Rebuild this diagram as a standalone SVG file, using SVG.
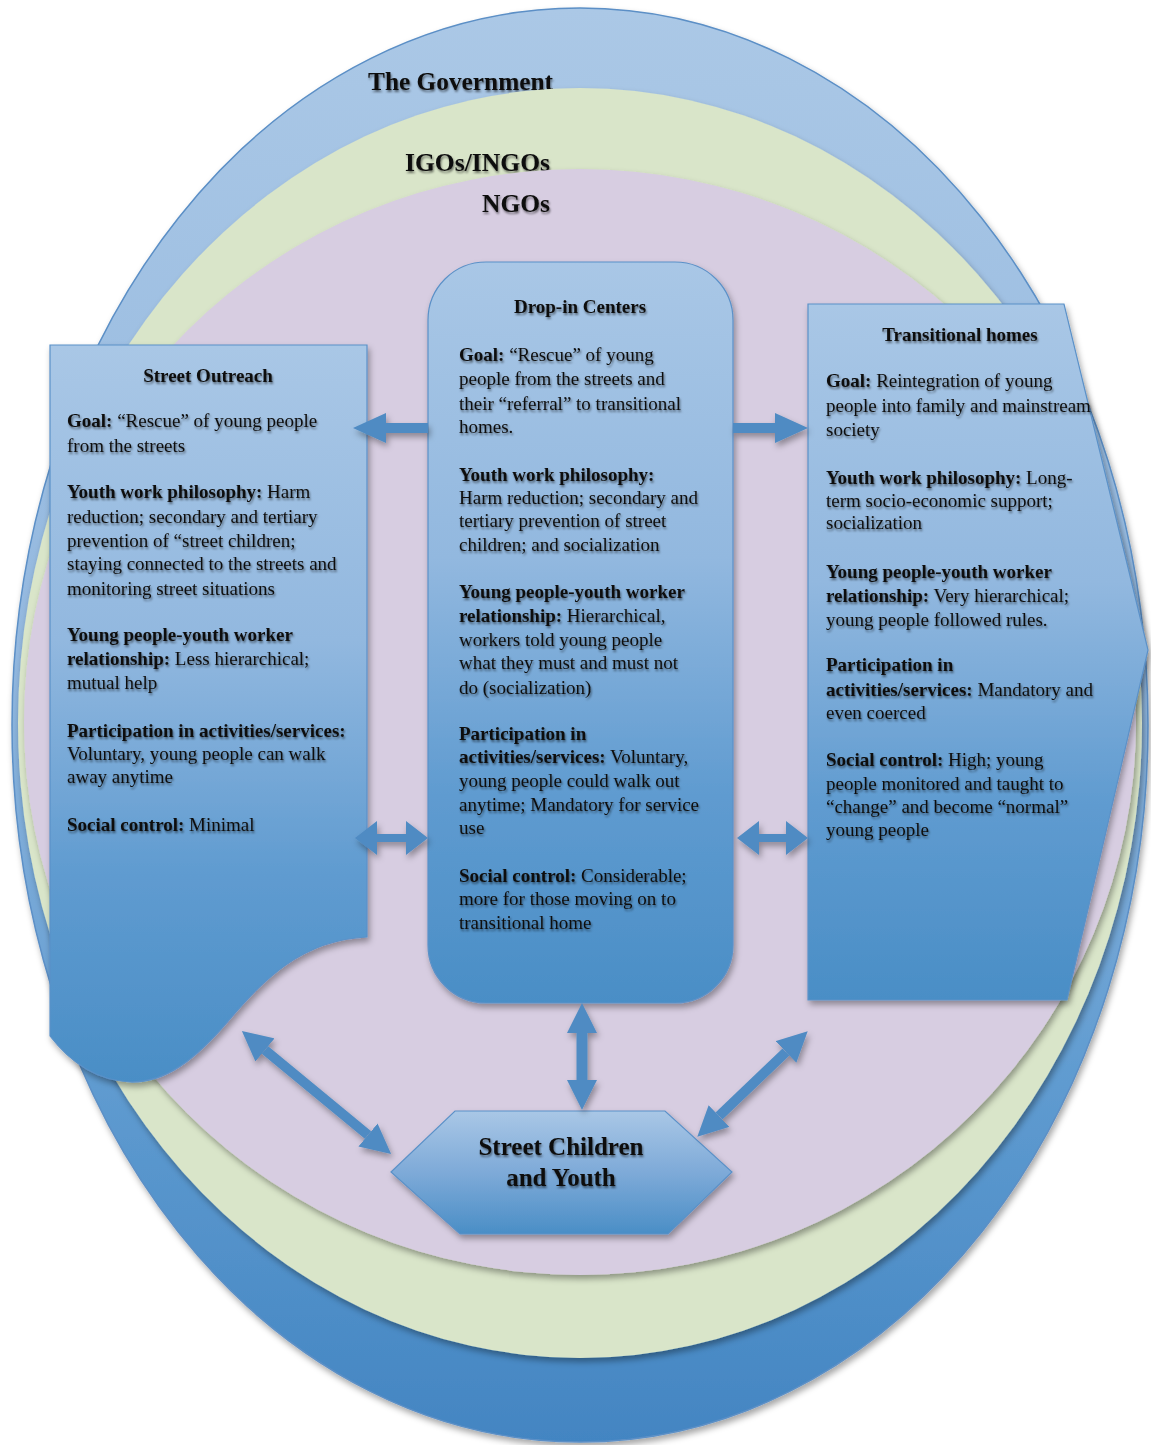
<svg xmlns="http://www.w3.org/2000/svg" width="1151" height="1445" viewBox="0 0 1151 1445">
<style>
text{font-family:"Liberation Serif","Times New Roman",serif;fill:#111;}
.t{font-size:19px;}
.b{font-weight:bold;}
.h{font-size:19px;font-weight:bold;text-anchor:middle;}
.big{font-size:26px;font-weight:bold;}
.conn{stroke:#4f8bc3;fill:none;}
</style>
<defs>
<linearGradient id="gGov" x1="0" y1="0" x2="0" y2="1">
<stop offset="0" stop-color="#abc8e6"/>
<stop offset="0.45" stop-color="#93b8df"/>
<stop offset="0.75" stop-color="#5f9bd0"/>
<stop offset="1" stop-color="#4385c2"/>
</linearGradient>
<linearGradient id="gBox" x1="0" y1="0" x2="0" y2="1">
<stop offset="0" stop-color="#a9c7e6"/>
<stop offset="0.4" stop-color="#92b8df"/>
<stop offset="0.72" stop-color="#5f9bd0"/>
<stop offset="1" stop-color="#4a8ec6"/>
</linearGradient>
<linearGradient id="gHex" x1="0" y1="0" x2="0" y2="1">
<stop offset="0" stop-color="#a9c7e6"/>
<stop offset="0.5" stop-color="#7eaad8"/>
<stop offset="1" stop-color="#4a8ec6"/>
</linearGradient>
<filter id="sh" x="-10%" y="-10%" width="125%" height="125%">
<feDropShadow dx="2" dy="4" stdDeviation="3" flood-color="#000" flood-opacity="0.35"/>
</filter>
<filter id="ts" x="-5%" y="-20%" width="110%" height="160%">
<feDropShadow dx="1" dy="2" stdDeviation="1.3" flood-color="#000" flood-opacity="0.5"/>
</filter>
<marker id="mBig" markerUnits="userSpaceOnUse" markerWidth="33" markerHeight="30" viewBox="0 0 33 30" refX="0" refY="15" orient="auto-start-reverse">
<path d="M0,0 L33,15 L0,30 Z" fill="#4f8bc3"/>
</marker>
<marker id="mSmall" markerUnits="userSpaceOnUse" markerWidth="22" markerHeight="34" viewBox="0 0 22 34" refX="0" refY="17" orient="auto-start-reverse">
<path d="M0,0 L22,17 L0,34 Z" fill="#4f8bc3"/>
</marker>
<marker id="mMid" markerUnits="userSpaceOnUse" markerWidth="30" markerHeight="30" viewBox="0 0 30 30" refX="0" refY="15" orient="auto-start-reverse">
<path d="M0,0 L30,15 L0,30 Z" fill="#4f8bc3"/>
</marker>
</defs>

<g id="government">
<ellipse cx="580" cy="725" rx="568" ry="717" fill="url(#gGov)" stroke="#5b8fc6" stroke-width="1.5" filter="url(#sh)"/>
<text class="big" x="368" y="90" textLength="185" lengthAdjust="spacingAndGlyphs" filter="url(#ts)">The Government</text>
</g>
<g id="igos-ingos">
<ellipse cx="580" cy="723" rx="562" ry="635" fill="#d9e5c9" filter="url(#sh)"/>
<text class="big" x="405" y="171" textLength="145" lengthAdjust="spacingAndGlyphs" filter="url(#ts)">IGOs/INGOs</text>
</g>
<g id="ngos">
<ellipse cx="580" cy="722" rx="556" ry="553" fill="#d7cde1" filter="url(#sh)"/>
<text class="big" x="482" y="212" textLength="68" lengthAdjust="spacingAndGlyphs" filter="url(#ts)">NGOs</text>
</g>

<g id="street-outreach">
<path d="M50,345 H367 V937 C300,940 262,982 229,1020 C195,1060 165,1083 130,1082 C95,1080 70,1062 50,1036 Z" fill="url(#gBox)" stroke="#5b91c8" stroke-width="1.2" filter="url(#sh)"/>
<g filter="url(#ts)">
<text class="h" x="208" y="382">Street Outreach</text>
<text class="t" x="67" y="427"><tspan class="b">Goal:</tspan> “Rescue” of young people</text>
<text class="t" x="67" y="452">from the streets</text>
<text class="t" x="67" y="498"><tspan class="b">Youth work philosophy:</tspan> Harm</text>
<text class="t" x="67" y="523">reduction; secondary and tertiary</text>
<text class="t" x="67" y="547">prevention of “street children;</text>
<text class="t" x="67" y="570">staying connected to the streets and</text>
<text class="t" x="67" y="595">monitoring street situations</text>
<text class="t b" x="67" y="641">Young people-youth worker</text>
<text class="t" x="67" y="665"><tspan class="b">relationship:</tspan> Less hierarchical;</text>
<text class="t" x="67" y="689">mutual help</text>
<text class="t b" x="67" y="737">Participation in activities/services:</text>
<text class="t" x="67" y="760">Voluntary, young people can walk</text>
<text class="t" x="67" y="783">away anytime</text>
<text class="t" x="67" y="831"><tspan class="b">Social control:</tspan> Minimal</text>
</g>
</g>

<g id="drop-in-centers">
<rect x="428" y="262" width="305" height="741" rx="58" ry="58" fill="url(#gBox)" stroke="#5b91c8" stroke-width="1.2" filter="url(#sh)"/>
<g filter="url(#ts)">
<text class="h" x="580" y="313">Drop-in Centers</text>
<text class="t" x="459" y="361"><tspan class="b">Goal:</tspan> “Rescue” of young</text>
<text class="t" x="459" y="385">people from the streets and</text>
<text class="t" x="459" y="410">their “referral” to transitional</text>
<text class="t" x="459" y="433">homes.</text>
<text class="t b" x="459" y="481">Youth work philosophy:</text>
<text class="t" x="459" y="504">Harm reduction; secondary and</text>
<text class="t" x="459" y="527">tertiary prevention of street</text>
<text class="t" x="459" y="551">children; and socialization</text>
<text class="t b" x="459" y="598">Young people-youth worker</text>
<text class="t" x="459" y="622"><tspan class="b">relationship:</tspan> Hierarchical,</text>
<text class="t" x="459" y="646">workers told young people</text>
<text class="t" x="459" y="669">what they must and must not</text>
<text class="t" x="459" y="694">do (socialization)</text>
<text class="t b" x="459" y="740">Participation in</text>
<text class="t" x="459" y="763"><tspan class="b">activities/services:</tspan> Voluntary,</text>
<text class="t" x="459" y="787">young people could walk out</text>
<text class="t" x="459" y="811">anytime; Mandatory for service</text>
<text class="t" x="459" y="834">use</text>
<text class="t" x="459" y="882"><tspan class="b">Social control:</tspan> Considerable;</text>
<text class="t" x="459" y="905">more for those moving on to</text>
<text class="t" x="459" y="929">transitional home</text>
</g>
</g>

<g id="transitional-homes">
<path d="M808,304 H1064 L1148,650 L1067,1000 H808 Z" fill="url(#gBox)" stroke="#5b91c8" stroke-width="1.2" filter="url(#sh)"/>
<g filter="url(#ts)">
<text class="h" x="960" y="341">Transitional homes</text>
<text class="t" x="826" y="387"><tspan class="b">Goal:</tspan> Reintegration of young</text>
<text class="t" x="826" y="412">people into family and mainstream</text>
<text class="t" x="826" y="436">society</text>
<text class="t" x="826" y="484"><tspan class="b">Youth work philosophy:</tspan> Long-</text>
<text class="t" x="826" y="507">term socio-economic support;</text>
<text class="t" x="826" y="529">socialization</text>
<text class="t b" x="826" y="578">Young people-youth worker</text>
<text class="t" x="826" y="602"><tspan class="b">relationship:</tspan> Very hierarchical;</text>
<text class="t" x="826" y="626">young people followed rules.</text>
<text class="t b" x="826" y="671">Participation in</text>
<text class="t" x="826" y="696"><tspan class="b">activities/services:</tspan> Mandatory and</text>
<text class="t" x="826" y="719">even coerced</text>
<text class="t" x="826" y="766"><tspan class="b">Social control:</tspan> High; young</text>
<text class="t" x="826" y="790">people monitored and taught to</text>
<text class="t" x="826" y="813">“change” and become “normal”</text>
<text class="t" x="826" y="836">young people</text>
</g>
</g>

<g id="street-children-and-youth">
<path d="M391,1172 L455,1111 L665,1111 L732,1172 L668,1234 L460,1234 Z" fill="url(#gHex)" stroke="#5b91c8" stroke-width="1.2" filter="url(#sh)"/>
<g filter="url(#ts)">
<text x="561" y="1155" font-size="25" font-weight="bold" text-anchor="middle">Street Children</text>
<text x="561" y="1186" font-size="25" font-weight="bold" text-anchor="middle">and Youth</text>
</g>
</g>

<g id="connectors" filter="url(#sh)">
<line class="conn" x1="428" y1="428" x2="386" y2="428" stroke-width="10" marker-end="url(#mBig)"/>
<line class="conn" x1="733" y1="428" x2="775" y2="428" stroke-width="10" marker-end="url(#mBig)"/>
<line class="conn" x1="377" y1="838" x2="406" y2="838" stroke-width="8" marker-start="url(#mSmall)" marker-end="url(#mSmall)"/>
<line class="conn" x1="759" y1="838" x2="786" y2="838" stroke-width="8" marker-start="url(#mSmall)" marker-end="url(#mSmall)"/>
<line class="conn" x1="582" y1="1033" x2="582" y2="1080" stroke-width="11" marker-start="url(#mMid)" marker-end="url(#mMid)"/>
<line class="conn" x1="265" y1="1050" x2="368" y2="1135" stroke-width="10" marker-start="url(#mMid)" marker-end="url(#mMid)"/>
<line class="conn" x1="786" y1="1052" x2="719" y2="1116" stroke-width="10" marker-start="url(#mMid)" marker-end="url(#mMid)"/>
</g>
</svg>
